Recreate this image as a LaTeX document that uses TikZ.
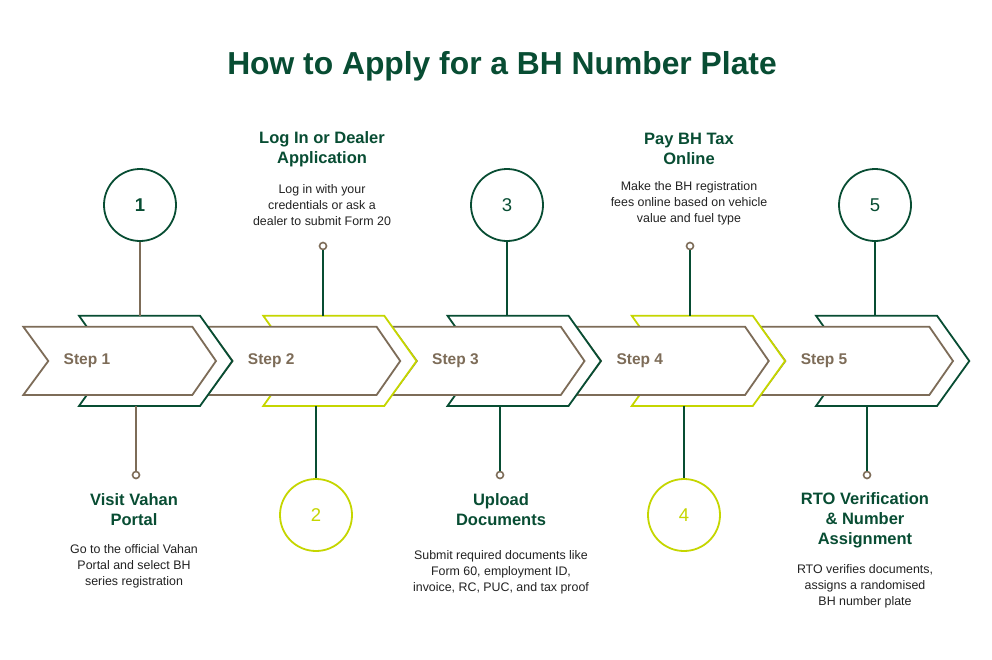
\documentclass[tikz,border=0pt]{standalone}
\usepackage{fontspec}
\setmainfont{Liberation Sans}
\usepackage{xcolor}
\definecolor{darkgreen}{RGB}{8,77,51}
\definecolor{lime}{RGB}{197,214,0}
\definecolor{taupe}{RGB}{125,108,88}
\definecolor{bodytext}{RGB}{34,34,34}
\usepackage{tikz}
\usetikzlibrary{positioning}

\tikzset{
    chevout/.style={fill=white, line width=1.8pt, line join=miter},
    chevin/.style={fill=white, draw=taupe, line width=1.8pt, line join=miter},
    steplabel/.style={text=taupe, font=\bfseries\fontsize{15.5}{18}\selectfont, inner sep=0pt},
    numcirc/.style={circle, minimum size=72pt, inner sep=0pt, line width=1.8pt, fill=white, font=\fontsize{18.5}{20}\selectfont},
    dot/.style={circle, minimum size=7pt, inner sep=0pt, draw=taupe, fill=white, line width=1.6pt},
    link/.style={line width=1.8pt},
    heading/.style={text=darkgreen, font=\bfseries\fontsize{16.5}{20}\selectfont, align=center, inner sep=0pt},
    body/.style={text=bodytext, font=\fontsize{12.4}{16}\selectfont, align=center, inner sep=0pt}
}

\begin{document}
\begin{tikzpicture}[x=1pt, y=-1pt]
    \useasboundingbox (0,0) rectangle (992,659);
    \fill[white] (0,0) rectangle (992,659);

    \node[text=darkgreen, font=\bfseries\fontsize{31.8}{36}\selectfont] (title) at (502,66) {How to Apply for a BH Number Plate};

    \foreach \i/\col [evaluate=\i as \n using int(\i+1)] in {4/darkgreen,3/lime,2/darkgreen,1/lime,0/darkgreen} {
        \begin{scope}[xshift=\i*184.25]
            \draw[chevout, draw=\col] (79,315.7) -- (200,315.7) -- (232.3,361) -- (200,406) -- (79,406) -- (111,361) -- cycle;
            \draw[chevin] (23.3,326.7) -- (192.3,326.7) -- (216,361) -- (192.3,395) -- (23.3,395) -- (48.3,361) -- cycle;
            \node[steplabel] (s\n) at (87,361) {Step \n};
        \end{scope}
    }

    \node[numcirc, draw=darkgreen, text=darkgreen, font=\bfseries\fontsize{18.5}{20}\selectfont] (c1) at (140,205) {1};
    \node[numcirc, draw=lime, text=lime] (c2) at (316,515) {2};
    \node[numcirc, draw=darkgreen, text=darkgreen] (c3) at (507,205) {3};
    \node[numcirc, draw=lime, text=lime] (c4) at (684,515) {4};
    \node[numcirc, draw=darkgreen, text=darkgreen] (c5) at (875,205) {5};

    \node[dot] (d1) at (136,475) {};
    \node[dot] (d2) at (323,246) {};
    \node[dot] (d3) at (500,475) {};
    \node[dot] (d4) at (690,246) {};
    \node[dot] (d5) at (867,475) {};

    \coordinate (t1) at (140,315.7);
    \coordinate (b1) at (136,406);
    \coordinate (t2) at (323,315.7);
    \coordinate (b2) at (316,406);
    \coordinate (t3) at (507,315.7);
    \coordinate (b3) at (500,406);
    \coordinate (t4) at (690,315.7);
    \coordinate (b4) at (684,406);
    \coordinate (t5) at (875,315.7);
    \coordinate (b5) at (867,406);

    \draw[link, taupe] (c1) -- (t1);
    \draw[link, taupe] (b1) -- (d1);
    \draw[link, darkgreen] (d2) -- (t2);
    \draw[link, darkgreen] (b2) -- (c2);
    \draw[link, darkgreen] (c3) -- (t3);
    \draw[link, darkgreen] (b3) -- (d3);
    \draw[link, darkgreen] (d4) -- (t4);
    \draw[link, darkgreen] (b4) -- (c4);
    \draw[link, darkgreen] (c5) -- (t5);
    \draw[link, darkgreen] (b5) -- (d5);

    \node[heading] (h1) at (134,510) {Visit Vahan\\Portal};
    \node[body] (p1) at (134,566) {Go to the official Vahan\\Portal and select BH\\series registration};

    \node[heading] (h2) at (322,149) {Log In or Dealer\\Application};
    \node[body] (p2) at (322,205) {Log in with your\\credentials or ask a\\dealer to submit Form 20};

    \node[heading] (h3) at (501,510) {Upload\\Documents};
    \node[body] (p3) at (501,572) {Submit required documents like\\Form 60, employment ID,\\invoice, RC, PUC, and tax proof};

    \node[heading] (h4) at (689,149) {Pay BH Tax\\Online};
    \node[body] (p4) at (689,203) {Make the BH registration\\fees online based on vehicle\\value and fuel type};

    \node[heading] (h5) at (865,520) {RTO Verification\\\& Number\\Assignment};
    \node[body] (p5) at (865,586) {RTO verifies documents,\\assigns a randomised\\BH number plate};
\end{tikzpicture}
\end{document}
